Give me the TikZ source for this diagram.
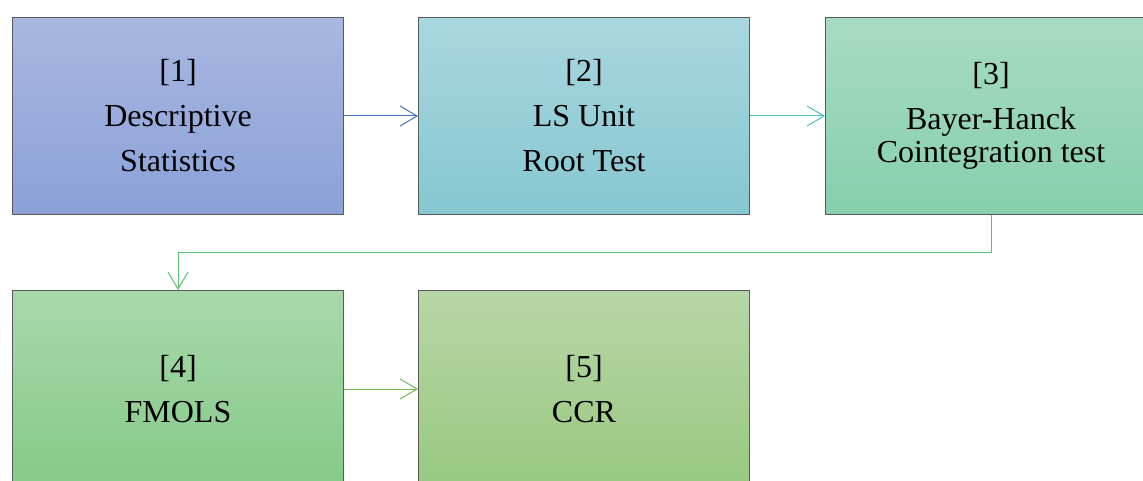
\documentclass[tikz,border=0pt]{standalone}
\usepackage{fontspec}
\setmainfont{Liberation Serif}
\usetikzlibrary{positioning,arrows.meta}
\definecolor{blueTop}{HTML}{A9B7E1}
\definecolor{blueBot}{HTML}{8AA1D8}
\definecolor{tealTop}{HTML}{A9D7DF}
\definecolor{tealBot}{HTML}{86C7D1}
\definecolor{mintTop}{HTML}{A7DBC3}
\definecolor{mintBot}{HTML}{87CFAD}
\definecolor{greenTop}{HTML}{A9D8AB}
\definecolor{greenBot}{HTML}{84CA88}
\definecolor{oliveTop}{HTML}{B7D6A7}
\definecolor{oliveBot}{HTML}{98C97F}
\definecolor{linkBlue}{HTML}{4472C4}
\definecolor{linkTeal}{HTML}{4BC0C4}
\definecolor{linkGreen}{HTML}{5DC070}
\definecolor{linkOlive}{HTML}{70B852}
\begin{document}
\begin{tikzpicture}[x=1pt, y=-1pt, line join=round,
	>={Straight Barb[length=17pt,width=20pt]},
	stage/.style={draw=black!65, line width=1pt, minimum width=331pt,
		minimum height=197pt, inner sep=0pt, align=center,
		font=\fontsize{32}{45}\selectfont},
	link/.style={->, line width=1pt}]
	\useasboundingbox (0,0) rectangle (1143,481);
	\clip (0,0) rectangle (1143,481);
	% first row
	\node[stage, top color=blueTop, bottom color=blueBot] (s1) at (178,116)
		{[1]\\Descriptive\\Statistics};
	\node[stage, top color=tealTop, bottom color=tealBot, right=74pt of s1] (s2)
		{[2]\\LS Unit\\Root Test};
	\node[stage, top color=mintTop, bottom color=mintBot, right=75pt of s2] (s3)
		{[3]\\Bayer-Hanck\\[-12pt]Cointegration test};
	% second row
	\node[stage, top color=greenTop, bottom color=greenBot] (s4) at (178,389)
		{[4]\\FMOLS};
	\node[stage, top color=oliveTop, bottom color=oliveBot, right=74pt of s4] (s5)
		{[5]\\CCR};
	% links
	\draw[link, linkBlue] (s1) -- (s2);
	\draw[link, linkTeal] (s2) -- (s3);
	\draw[link, linkGreen] (s3.south) -- ++(0,37) -| (s4.north);
	\draw[link, linkOlive] (s4) -- (s5);
\end{tikzpicture}
\end{document}
